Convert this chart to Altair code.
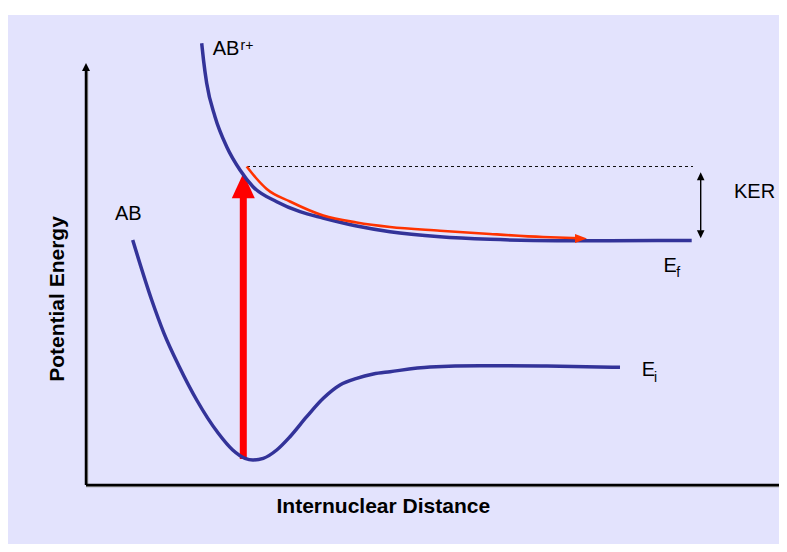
import altair as alt
import pandas as pd

# ---------------- data (arbitrary units: r = internuclear distance, e = potential energy) ----
# ground state AB (E_i)
ab_r = [46.7, 65.7, 78.0, 93.3, 110.7, 132.3, 146.7, 159.0, 167.0, 177.3, 190.7, 204.0, 220.7,
        237.3, 254.0, 270.7, 287.3, 304.0, 344.0, 394.0, 461.0, 534.0]
ab_e = [245.0, 185.0, 151.7, 118.3, 85.0, 51.7, 35.0, 26.7, 25.0, 26.7, 35.0, 48.3, 68.3,
        86.7, 100.0, 106.7, 111.0, 113.3, 118.0, 119.3, 119.0, 117.7]

# dissociative state AB^r+ (E_f)
abr_r = [115.7, 117.5, 120.7, 129.0, 140.7, 154.0, 167.0, 190.7, 214.0, 237.0, 270.7, 304.0,
         354.0, 404.0, 470.7, 524.0, 605.7]
abr_e = [441.7, 425.0, 401.7, 368.3, 338.3, 315.0, 298.3, 283.3, 273.3, 267.0, 259.0, 253.3,
         248.3, 245.7, 244.3, 244.3, 244.5]

# fragment trajectory (orange arrow)
traj_r = [160.7, 170.0, 180.7, 204.0, 237.3, 270.7, 304.0, 354.0, 404.0, 457.0, 494.0]
traj_e = [318.5, 307.0, 296.0, 283.5, 269.5, 262.5, 258.0, 254.3, 251.0, 248.0, 246.7]
traj_head_r = [495.0]
traj_head_e = [246.5]

# vertical excitation (red arrow)
exc_r = [157.3]
exc_e0 = [26.0]
exc_e1 = [287.0]
exc_head_e = [299.2]

# KER level (dashed) and KER double arrow
ker_level_r = [161.0]
ker_level_r2 = [607.0]
ker_level_e = [318.5]
ker_r = [614.7]
ker_e0 = [254.3]
ker_e1 = [305.0]
ker_up_e = [308.8]
ker_down_e = [250.7]

# axes
axis_len_r = 694.0
axis_len_e = 415.0
axis_head_e = [418.1]

# labels
lab_text = ["AB", "AB", "KER", "E", "E"]
lab_r = [126.7, 29.0, 648.0, 577.5, 555.7]
lab_e = [430.0, 265.0, 286.7, 213.0, 109.0]
sub_text = ["r+", "f", "i"]
sub_r = [154.5, 590.3, 568.0]
sub_e = [435.5, 208.3, 103.3]
xtitle = ["Internuclear Distance"]
xtitle_r = [297.3]
xtitle_e = [-28.3]
ytitle = ["Potential Energy"]
ytitle_r = [-22.5]
ytitle_e = [186.0]

# ---------------- chart ----------------
BLUE = "#333399"
X = alt.Scale(domain=[-78, 693], nice=False, zero=False)
Y = alt.Scale(domain=[-59, 470], nice=False, zero=False)


def xe(field="r"):
    return alt.X(f"{field}:Q", scale=X, axis=None)


def ye(field="e"):
    return alt.Y(f"{field}:Q", scale=Y, axis=None)


ab_df = pd.DataFrame({"r": ab_r, "e": ab_e})
abr_df = pd.DataFrame({"r": abr_r, "e": abr_e})
traj_df = pd.DataFrame({"r": traj_r, "e": traj_e})

ab_line = alt.Chart(ab_df).mark_line(color=BLUE, strokeWidth=3.5, interpolate="monotone").encode(
    x=xe(), y=ye(), order="r:Q")
abr_line = alt.Chart(abr_df).mark_line(color=BLUE, strokeWidth=3.5, interpolate="monotone").encode(
    x=xe(), y=ye(), order="r:Q")
traj_line = alt.Chart(traj_df).mark_line(color="#FF3300", strokeWidth=2.6, interpolate="monotone").encode(
    x=xe(), y=ye(), order="r:Q")
traj_head = alt.Chart(pd.DataFrame({"r": traj_head_r, "e": traj_head_e})).mark_point(
    shape="M1,0L-1,-0.75L-1,0.75Z", size=144, filled=True, opacity=1, color="#FF3300", strokeWidth=0
).encode(x=xe(), y=ye())

exc_df = pd.DataFrame({"r": exc_r, "e": exc_e0, "e2": exc_e1, "eh": exc_head_e})
exc_shaft = alt.Chart(exc_df).mark_rule(color="#FF0000", strokeWidth=7).encode(
    x=xe(), y=ye(), y2="e2:Q")
exc_head = alt.Chart(exc_df).mark_point(
    shape="M0,-1L0.92,1L-0.92,1Z", size=625, filled=True, opacity=1, color="#FF0000", strokeWidth=0
).encode(x=xe(), y=ye("eh"))

ker_level = alt.Chart(pd.DataFrame({"r": ker_level_r, "r2": ker_level_r2, "e": ker_level_e})).mark_rule(
    color="#111111", strokeWidth=1, strokeDash=[3, 3]).encode(x=xe(), x2="r2:Q", y=ye())
ker_df = pd.DataFrame({"r": ker_r, "e": ker_e0, "e2": ker_e1, "up": ker_up_e, "down": ker_down_e})
ker_shaft = alt.Chart(ker_df).mark_rule(color="black", strokeWidth=1.4).encode(
    x=xe(), y=ye(), y2="e2:Q")
ker_up = alt.Chart(ker_df).mark_point(
    shape="M0,-1L0.95,1L-0.95,1Z", size=64, filled=True, opacity=1, color="black", strokeWidth=0
).encode(x=xe(), y=ye("up"))
ker_down = alt.Chart(ker_df).mark_point(
    shape="M0,1L0.95,-1L-0.95,-1Z", size=64, filled=True, opacity=1, color="black", strokeWidth=0
).encode(x=xe(), y=ye("down"))

axes_df = pd.DataFrame({"r": [0.0], "e": [0.0], "rr": [axis_len_r], "ee": [axis_len_e],
                        "rs": [1.6], "es": [-1.6], "eh": axis_head_e})
x_axis_shadow = alt.Chart(axes_df).mark_rule(color="#8a8a8a", strokeWidth=1.2).encode(
    x=xe(), x2="rr:Q", y=ye("es"))
y_axis_shadow = alt.Chart(axes_df).mark_rule(color="#8a8a8a", strokeWidth=1.2).encode(
    x=xe("rs"), y=ye("es"), y2="ee:Q")
x_axis = alt.Chart(axes_df).mark_rule(color="black", strokeWidth=2.5).encode(
    x=xe(), x2="rr:Q", y=ye())
y_axis = alt.Chart(axes_df).mark_rule(color="black", strokeWidth=2.5).encode(
    x=xe(), y=ye(), y2="ee:Q")
y_head = alt.Chart(axes_df).mark_point(
    shape="M0,-1L1,1L-1,1Z", size=64, filled=True, opacity=1, color="black", strokeWidth=0
).encode(x=xe(), y=ye("eh"))

labels = alt.Chart(pd.DataFrame({"t": lab_text, "r": lab_r, "e": lab_e})).mark_text(
    font="Liberation Sans", fontSize=20, align="left", baseline="alphabetic", color="black"
).encode(x=xe(), y=ye(), text="t:N")
subs = alt.Chart(pd.DataFrame({"t": sub_text, "r": sub_r, "e": sub_e})).mark_text(
    font="Liberation Sans", fontSize=14, align="left", baseline="alphabetic", color="black"
).encode(x=xe(), y=ye(), text="t:N")
xt = alt.Chart(pd.DataFrame({"t": xtitle, "r": xtitle_r, "e": xtitle_e})).mark_text(
    font="Liberation Sans", fontSize=21, fontWeight="bold", align="center", baseline="alphabetic",
    color="black"
).encode(x=xe(), y=ye(), text="t:N")
yt = alt.Chart(pd.DataFrame({"t": ytitle, "r": ytitle_r, "e": ytitle_e})).mark_text(
    font="Liberation Sans", fontSize=21, fontWeight="bold", align="center", baseline="alphabetic",
    angle=270, color="black"
).encode(x=xe(), y=ye(), text="t:N")

chart = alt.layer(
    x_axis_shadow, y_axis_shadow, x_axis, y_axis, y_head,
    ker_level, ker_shaft, ker_up, ker_down,
    exc_shaft, exc_head,
    ab_line, abr_line, traj_line, traj_head,
    labels, subs, xt, yt,
).properties(
    width=771, height=529,
    autosize=alt.AutoSizeParams(type="none"),
    padding={"top": 7, "left": 0, "right": 0, "bottom": 0},
    background="white",
).configure_view(stroke=None, fill="#E3E3FD")

chart.save("out.html", embed_options={"renderer": "svg", "actions": False})
